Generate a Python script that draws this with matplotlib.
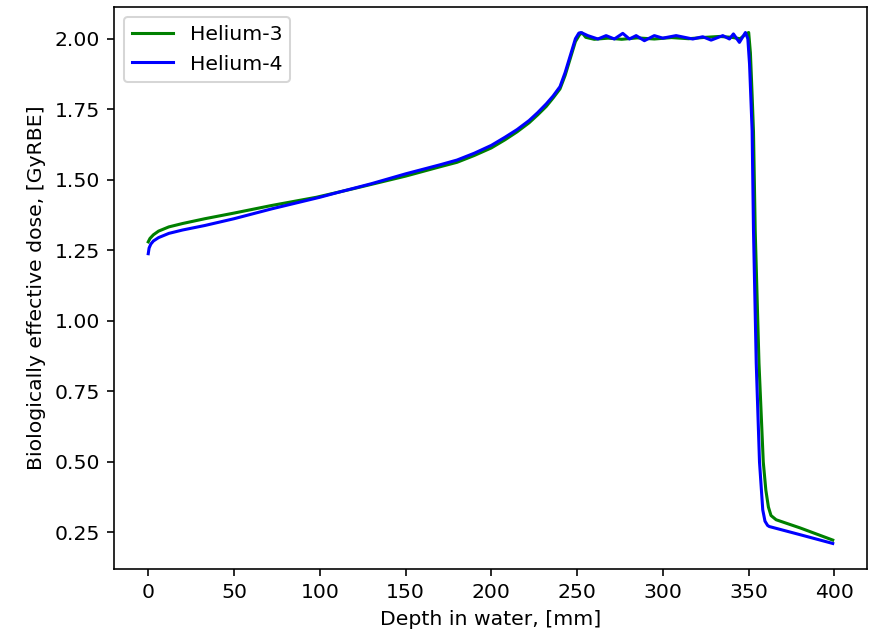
import matplotlib
matplotlib.use("Agg")
import matplotlib.pyplot as plt

# Helium-3 depth-dose curve
he3_depth = [0, 1, 3, 6, 12, 20, 33, 50, 72, 98, 120, 150, 170, 180, 190, 200,
             208, 215, 222, 227, 232, 236, 240, 243, 246, 249, 251.5, 253, 255,
             260, 268, 276, 285, 295, 305, 315, 325, 333, 340, 345, 348, 350,
             351, 352, 352.8, 353.8, 356, 358.5, 360, 361.5, 363, 366, 380, 399]
he3_dose = [1.280, 1.292, 1.305, 1.318, 1.333, 1.345, 1.362, 1.382, 1.409, 1.438,
            1.469, 1.513, 1.546, 1.562, 1.586, 1.613, 1.642, 1.670, 1.702, 1.730,
            1.760, 1.790, 1.822, 1.870, 1.930, 1.990, 2.015, 2.020, 2.005, 1.998,
            2.002, 1.998, 2.003, 1.999, 2.004, 2.000, 2.005, 2.008, 2.005, 2.000,
            2.015, 2.022, 1.950, 1.800, 1.670, 1.320, 0.850, 0.500, 0.400, 0.340,
            0.310, 0.295, 0.266, 0.223]

# Helium-4 depth-dose curve
he4_depth = [0, 0.5, 1.5, 3, 6, 12, 20, 33, 50, 72, 100, 111, 130, 150, 170, 180,
             190, 200, 208, 215, 222, 227, 232, 236, 240, 243, 246, 249, 251,
             252.3, 256.2, 262.1, 266.9, 271.7, 276.6, 280.5, 284.4, 289.2, 295,
             299.9, 307.7, 317.4, 323.2, 328.1, 334.9, 338.8, 341.1, 344.6, 348.1,
             349.5, 350.5, 352, 352.8, 354.4, 356.3, 358.2, 359.5, 361, 362, 380, 399]
he4_dose = [1.238, 1.258, 1.272, 1.283, 1.295, 1.310, 1.322, 1.338, 1.362, 1.397,
            1.438, 1.456, 1.486, 1.521, 1.553, 1.570, 1.594, 1.622, 1.651, 1.678,
            1.710, 1.738, 1.769, 1.797, 1.830, 1.880, 1.940, 2.000, 2.020, 2.022,
            2.011, 1.999, 2.011, 1.999, 2.019, 1.999, 2.011, 1.993, 2.011, 2.002,
            2.011, 1.999, 2.007, 1.995, 2.011, 1.999, 2.017, 1.987, 2.022, 2.000,
            1.910, 1.674, 1.320, 0.850, 0.500, 0.330, 0.290, 0.275, 0.271, 0.242,
            0.211]

DPI = 147
fig = plt.figure(figsize=(873 / DPI, 633 / DPI), dpi=DPI)
ax = fig.add_subplot(111)
fig.subplots_adjust(left=0.1306, right=0.9931, bottom=0.1011, top=0.989)

ax.plot(he3_depth, he3_dose, color="green", label="Helium-3")
ax.plot(he4_depth, he4_dose, color="blue", label="Helium-4")

ax.set_xlabel("Depth in water, [mm]")
ax.set_ylabel("Biologically effective dose, [GyRBE]")
ax.legend(loc="upper left")

fig.savefig("out.png", dpi=DPI)
